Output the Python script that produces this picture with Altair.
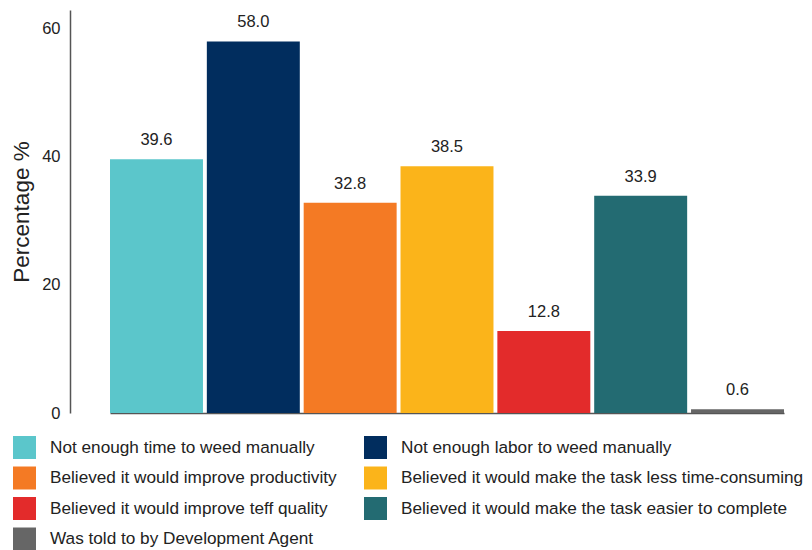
import altair as alt
import pandas as pd

categories = [
    "Not enough time to weed manually",
    "Not enough labor to weed manually",
    "Believed it would improve productivity",
    "Believed it would make the task less time-consuming",
    "Believed it would improve teff quality",
    "Believed it would make the task easier to complete",
    "Was told to by Development Agent",
]
values = [39.6, 58.0, 32.8, 38.5, 12.8, 33.9, 0.6]
colors = ["#5BC6CB", "#012D5E", "#F47A24", "#FBB41A", "#E32B2B", "#236B72", "#666666"]
y_ticks = [0, 20, 40, 60]

df = pd.DataFrame({"cat": categories, "value": values})

FONT = "Arial, Liberation Sans, sans-serif"

x_enc = alt.X(
    "cat:N",
    sort=categories,
    scale=alt.Scale(range=[40, 714], paddingInner=0.04, paddingOuter=0, round=False),
    axis=alt.Axis(labels=False, ticks=False, title=None, domainColor="#555555", domainWidth=1.5),
)
y_enc = alt.Y(
    "value:Q",
    scale=alt.Scale(domain=[0, 62.9], nice=False),
    axis=alt.Axis(
        values=y_ticks,
        title="Percentage %",
        titleFontSize=22.5,
        titleFontWeight="normal",
        titleColor="#222222",
        titleFont=FONT,
        titlePadding=8,
        labelFontSize=16.5,
        labelColor="#222222",
        labelFont=FONT,
        labelPadding=10,
        ticks=False,
        grid=False,
        domainColor="#555555",
        domainWidth=1.5,
    ),
)

bars = alt.Chart(df).mark_bar(opacity=1).encode(
    x=x_enc,
    y=y_enc,
    color=alt.Color(
        "cat:N",
        sort=categories,
        scale=alt.Scale(domain=categories, range=colors),
        legend=alt.Legend(
            orient="none",
            legendX=-57,
            legendY=426,
            direction="horizontal",
            columns=2,
            title=None,
            symbolType="square",
            symbolSize=529,
            symbolStrokeWidth=0,
            symbolOpacity=1,
            labelFontSize=17.2,
            labelFont=FONT,
            labelColor="#222222",
            labelLimit=600,
            labelOffset=14,
            rowPadding=7.5,
            columnPadding=27,
        ),
    ),
)

labels = alt.Chart(df).mark_text(
    baseline="bottom", dy=-11, fontSize=16.5, font=FONT, color="#222222"
).encode(
    x=alt.X("cat:N", sort=categories),
    y=alt.Y("value:Q"),
    text=alt.Text("value:Q", format=".1f"),
)

chart = (
    alt.layer(bars, labels)
    .properties(width=734, height=403, padding={"left": 2, "top": 2, "right": 0, "bottom": 0})
    .configure_view(stroke=None)
)

chart.save("out.html", embed_options={"renderer": "svg", "actions": False})
